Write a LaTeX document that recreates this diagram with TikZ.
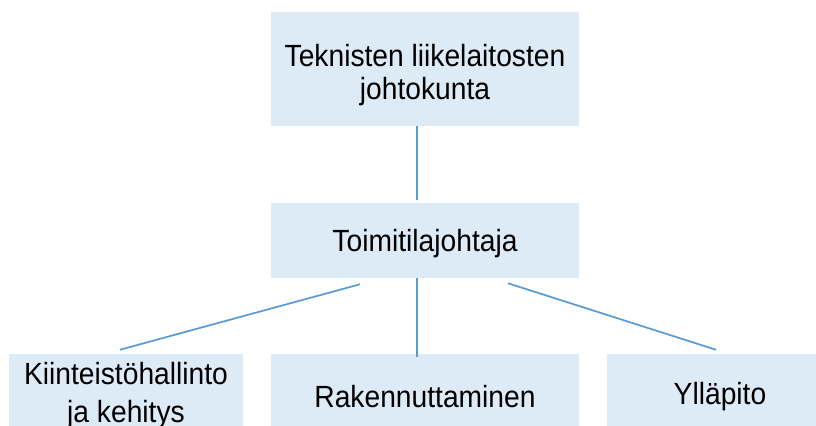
\documentclass[tikz,border=0pt]{standalone}
\usepackage{fontspec}
\setmainfont{Liberation Sans}[FakeStretch=0.92]
\usetikzlibrary{calc}
\definecolor{boxfill}{RGB}{221,235,247}
\definecolor{linkcol}{RGB}{91,155,213}
\begin{document}
\begin{tikzpicture}[x=0.75pt,y=-0.75pt,
  orgbox/.style={fill=boxfill,draw=none,inner sep=0pt},
  orgtext/.style={align=center,inner sep=0pt,
    font=\fontsize{23pt}{24.6pt}\selectfont},
  link/.style={draw=linkcol,line width=1.3pt}]
\clip (0,0) rectangle (816,425);
\useasboundingbox (0,0) rectangle (816,425);
\node[orgbox,minimum width=231pt,minimum height=85.5pt] (top) at (425,69) {};
\node[orgbox,minimum width=231pt,minimum height=56.25pt] (mid) at (425,240.5) {};
\node[orgbox,minimum width=175.5pt,minimum height=63pt] (kii) at (126,396) {};
\node[orgbox,minimum width=231pt,minimum height=63pt] (rak) at (425,396) {};
\node[orgbox,minimum width=169.5pt,minimum height=63pt] (yll) at (720,396) {};
\node[orgtext] (toptxt) at ($(top.center)+(0,6)$) {Teknisten liikelaitosten\\johtokunta};
\node[orgtext] (midtxt) at ($(mid.center)+(0,3)$) {Toimitilajohtaja};
\node[orgtext,font=\fontsize{23pt}{28.5pt}\selectfont] (kiitxt) at ($(kii.center)+(0,0)$) {Kiinteistöhallinto\\ja kehitys};
\node[orgtext] (raktxt) at ($(rak.center)+(0,1)$) {Rakennuttaminen};
\node[orgtext] (ylltxt) at ($(yll.center)+(0,1)$) {Ylläpito};
\draw[link] ($(top.south)+(-8,0)$) -- ($(mid.north)+(-8,-3)$);
\draw[link] ($(mid.south)+(-65,6)$) -- ($(kii.north)+(-6,-4)$);
\draw[link] ($(mid.south)+(-8,0)$) -- ($(rak.north)+(-8,3)$);
\draw[link] ($(mid.south)+(83,5)$) -- ($(yll.north)+(-4,-4)$);
\end{tikzpicture}
\end{document}
